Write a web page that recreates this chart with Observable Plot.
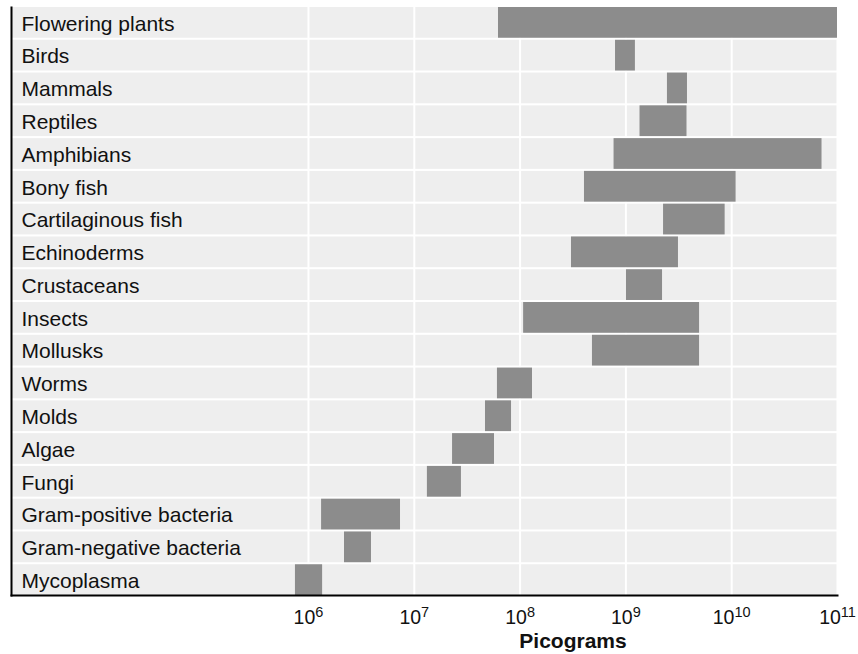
<!DOCTYPE html>
<html>
<head>
<meta charset="utf-8">
<script src="https://cdn.jsdelivr.net/npm/d3@7"></script>
<script src="https://cdn.jsdelivr.net/npm/@observablehq/plot@0.6"></script>
<style>
  html, body { margin: 0; padding: 0; background: #fff; }
</style>
</head>
<body>
<div id="chart"></div>
<script>
const categories = [
  "Flowering plants", "Birds", "Mammals", "Reptiles", "Amphibians", "Bony fish",
  "Cartilaginous fish", "Echinoderms", "Crustaceans", "Insects", "Mollusks",
  "Worms", "Molds", "Algae", "Fungi", "Gram-positive bacteria",
  "Gram-negative bacteria", "Mycoplasma"
];
const minValues = [
  6.25e7, 7.98e8, 2.47e9, 1.36e9, 7.73e8, 4.06e8,
  2.27e9, 3.06e8, 1.01e9, 1.08e8, 4.83e8,
  6.11e7, 4.71e7, 2.30e7, 1.33e7, 1.33e6,
  2.19e6, 7.53e5
];
const maxValues = [
  1e11, 1.23e9, 3.82e9, 3.78e9, 7.14e10, 1.10e10,
  8.67e9, 3.14e9, 2.22e9, 4.97e9, 4.97e9,
  1.31e8, 8.30e7, 5.73e7, 2.79e7, 7.41e6,
  3.94e6, 1.36e6
];
const xDomain = [1560, 1e11];
const tickValues = [1e6, 1e7, 1e8, 1e9, 1e10, 1e11];
const tickLabels = ["10^6", "10^7", "10^8", "10^9", "10^10", "10^11"];
const xTitle = "Picograms";
const xTitlePosition = 10 ** 8.5;

const data = categories.map((c, i) => ({group: c, lo: minValues[i], hi: maxValues[i]}));

const chart = Plot.plot({
  width: 858,
  height: 654,
  marginTop: 7,
  marginBottom: 59,
  marginLeft: 11,
  marginRight: 21,
  style: {fontFamily: "'Liberation Sans', Arial, Helvetica, sans-serif", background: "#fff", color: "black"},
  x: {type: "log", domain: xDomain, axis: null},
  y: {type: "band", domain: categories, paddingInner: 0.062, paddingOuter: 0, round: false, axis: null},
  marks: [
    Plot.barX(categories, {y: d => d, x1: () => xDomain[0], x2: () => xDomain[1], fill: "#eeeeee"}),
    Plot.ruleX(tickValues, {stroke: "#ffffff", strokeWidth: 2}),
    Plot.barX(data, {y: "group", x1: "lo", x2: "hi", fill: "#8c8c8c"}),
    Plot.text(categories, {y: d => d, frameAnchor: "left", dx: 10, dy: 1, textAnchor: "start",
      fontSize: 21, fill: "#111", text: d => d}),
    Plot.text(tickLabels, {x: (d, i) => tickValues[i], frameAnchor: "bottom", lineAnchor: "top",
      dy: 15, fontSize: 19.5, fill: "#111", text: d => d}),
    Plot.text([xTitle], {x: [xTitlePosition], frameAnchor: "bottom", lineAnchor: "top",
      dy: 38, fontSize: 21, fontWeight: "bold", fill: "#111", text: d => d}),
    Plot.frame({anchor: "left", stroke: "black", strokeWidth: 2}),
    Plot.frame({anchor: "bottom", stroke: "black", strokeWidth: 2})
  ]
});

d3.select(chart).selectAll("text").each(function () {
  const t = d3.select(this);
  const s = t.text();
  if (!s.includes("^")) return;
  const parts = s.split("^");
  t.selectAll("*").remove();
  t.text(null);
  t.append("tspan").text(parts[0]);
  t.append("tspan").attr("dy", "-0.5em").attr("font-size", "14.5px").text(parts[1]);
});

document.getElementById("chart").appendChild(chart);
</script>
</body>
</html>
